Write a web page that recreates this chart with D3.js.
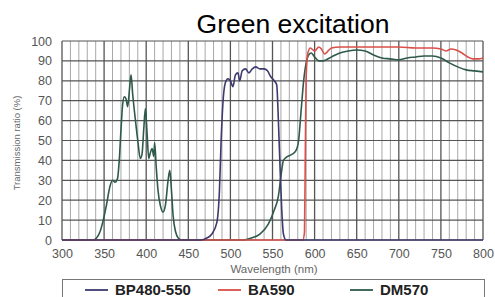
<!DOCTYPE html>
<html>
<head>
<meta charset="utf-8">
<script src="https://cdn.jsdelivr.net/npm/d3@7"></script>
<style>
  html, body { margin: 0; padding: 0; background: #fff; }
  svg { display: block; font-family: "Liberation Sans", Arial, sans-serif; }
</style>
</head>
<body>
<div id="chart"></div>
<script>
// Series: [wavelength nm, transmission %]
const bp480_550 = [[300,0],[465,0],[472,1],[478,3],[484,9],[487,25],[489,50],[491,68],[494,79],[497,81],[500,80],[503,77],[506,83],[509,84],[511,80],[514,85],[518,86],[522,84],[526,86],[530,87],[535,86],[540,86],[544,85],[548,82],[552,80],[555,78],[557,60],[559,36],[561,15],[563,3],[566,0],[800,0]];

const ba590 = [[300,0],[586,0],[588,4],[589,45],[590,82],[592,94],[595,96.5],[600,95],[605,97],[608,96],[612,93.5],[616,95],[620,96.5],[630,97],[650,97],[680,97],[700,97],[720,96.5],[740,96.5],[750,96],[756,95],[762,96],[768,95.5],[775,94],[782,92],[788,91],[795,91],[800,91.5]];

const dm570 = [[300,0],[337,0],[341,1],[345,4],[349,10],[353,18],[357,27],[360,30],[363,29],[366,31],[368,40],[370,55],[372,68],[374,72],[376,71],[378,67],[380,75],[382,83],[384,73],[387,61],[390,50],[393,41],[395,43],[397,55],[399,66],[401,54],[403,41],[405,44],[407,46],[409,42],[410,49],[412,36],[414,25],[417,17],[420,14],[423,18],[426,30],[428,35],[430,25],[432,12],[435,4],[438,1],[442,0],[515,0],[525,1],[535,3],[545,8],[552,15],[557,22],[560,32],[563,40],[568,42],[573,43],[578,45],[581,50],[584,65],[587,80],[590,89],[593,93],[596,94],[600,92],[605,90],[610,90],[620,92],[630,94],[640,95],[650,95.5],[660,95],[670,93],[680,91.5],[690,91],[700,90.5],[710,91.5],[720,92],[730,92.5],[740,92.5],[750,91.5],[760,89],[770,87],[780,85.5],[790,85],[800,84.5]];

const xTicks = [300, 350, 400, 450, 500, 550, 600, 650, 700, 750, 800];
const yTicks = [0, 10, 20, 30, 40, 50, 60, 70, 80, 90, 100];
const seriesNames = ["BP480-550", "BA590", "DM570"];
const seriesColors = ["#3d3a6e", "#d9504a", "#2f5a49"];

const W = 495, H = 297;
const margin = { top: 41, right: 12, bottom: 57, left: 62 };

const svg = d3.select("#chart").append("svg")
    .attr("width", W)
    .attr("height", H);

const x = d3.scaleLinear().domain([300, 800]).range([margin.left, W - margin.right]);
const y = d3.scaleLinear().domain([0, 100]).range([H - margin.bottom, margin.top]);

// Grid
const grid = svg.append("g");
grid.selectAll(".vminor")
    .data(d3.range(300, 801, 10))
    .join("line")
    .attr("x1", d => x(d)).attr("x2", d => x(d))
    .attr("y1", y(0)).attr("y2", y(100))
    .attr("stroke", d => d % 50 === 0 ? "#555" : "#a8a8a8")
    .attr("stroke-width", d => d % 50 === 0 ? 1.3 : 1);

grid.selectAll(".hline")
    .data(yTicks)
    .join("line")
    .attr("x1", x(300)).attr("x2", x(800))
    .attr("y1", d => y(d)).attr("y2", d => y(d))
    .attr("stroke", "#555")
    .attr("stroke-width", 1.2);

// Axes (labels only, lines come from the grid)
const xAxis = svg.append("g")
    .attr("transform", `translate(0,${y(0)})`)
    .call(d3.axisBottom(x).tickValues(xTicks).tickSize(0).tickPadding(9));
const yAxis = svg.append("g")
    .attr("transform", `translate(${margin.left},0)`)
    .call(d3.axisLeft(y).tickValues(yTicks).tickSize(0).tickPadding(10));

[xAxis, yAxis].forEach(a => {
    a.select(".domain").remove();
    a.selectAll("text")
        .attr("fill", "#555")
        .style("font-size", "12.5px")
        .style("font-family", "'Liberation Sans', Arial, sans-serif");
});

// Curves
const line = d3.line()
    .x(d => x(d[0]))
    .y(d => y(d[1]))
    .curve(d3.curveMonotoneX);

const order = [2, 1, 0];
svg.append("g").selectAll("path")
    .data(order)
    .join("path")
    .attr("d", i => line([bp480_550, ba590, dm570][i]))
    .attr("fill", "none")
    .attr("stroke", i => seriesColors[i])
    .attr("stroke-width", 1.6)
    .attr("stroke-linejoin", "round");

// Titles
svg.append("text")
    .attr("x", 293)
    .attr("y", 33)
    .attr("text-anchor", "middle")
    .style("font-size", "26.5px")
    .attr("fill", "#000")
    .text("Green excitation");

svg.append("text")
    .attr("x", 274)
    .attr("y", 273)
    .attr("text-anchor", "middle")
    .style("font-size", "11.5px")
    .attr("fill", "#666")
    .text("Wavelength (nm)");

svg.append("text")
    .attr("transform", "translate(20,143) rotate(-90)")
    .attr("text-anchor", "middle")
    .style("font-size", "9.5px")
    .attr("fill", "#666")
    .text("Transmission ratio (%)");

// Legend
svg.append("rect")
    .attr("x", 62.5).attr("y", 279.5)
    .attr("width", 422).attr("height", 30)
    .attr("fill", "#fff")
    .attr("stroke", "#777")
    .attr("stroke-width", 1);

const legendX = [85, 218, 350];
const legend = svg.append("g").selectAll("g")
    .data(seriesNames)
    .join("g")
    .attr("transform", (d, i) => `translate(${legendX[i]},290)`);

legend.append("line")
    .attr("x1", 0).attr("x2", 23)
    .attr("stroke", (d, i) => seriesColors[i])
    .attr("stroke-width", 1.8);

legend.append("text")
    .attr("x", 30)
    .attr("dy", "0.36em")
    .style("font-size", "15px")
    .style("font-weight", "bold")
    .attr("fill", "#222")
    .text(d => d);
</script>
</body>
</html>
